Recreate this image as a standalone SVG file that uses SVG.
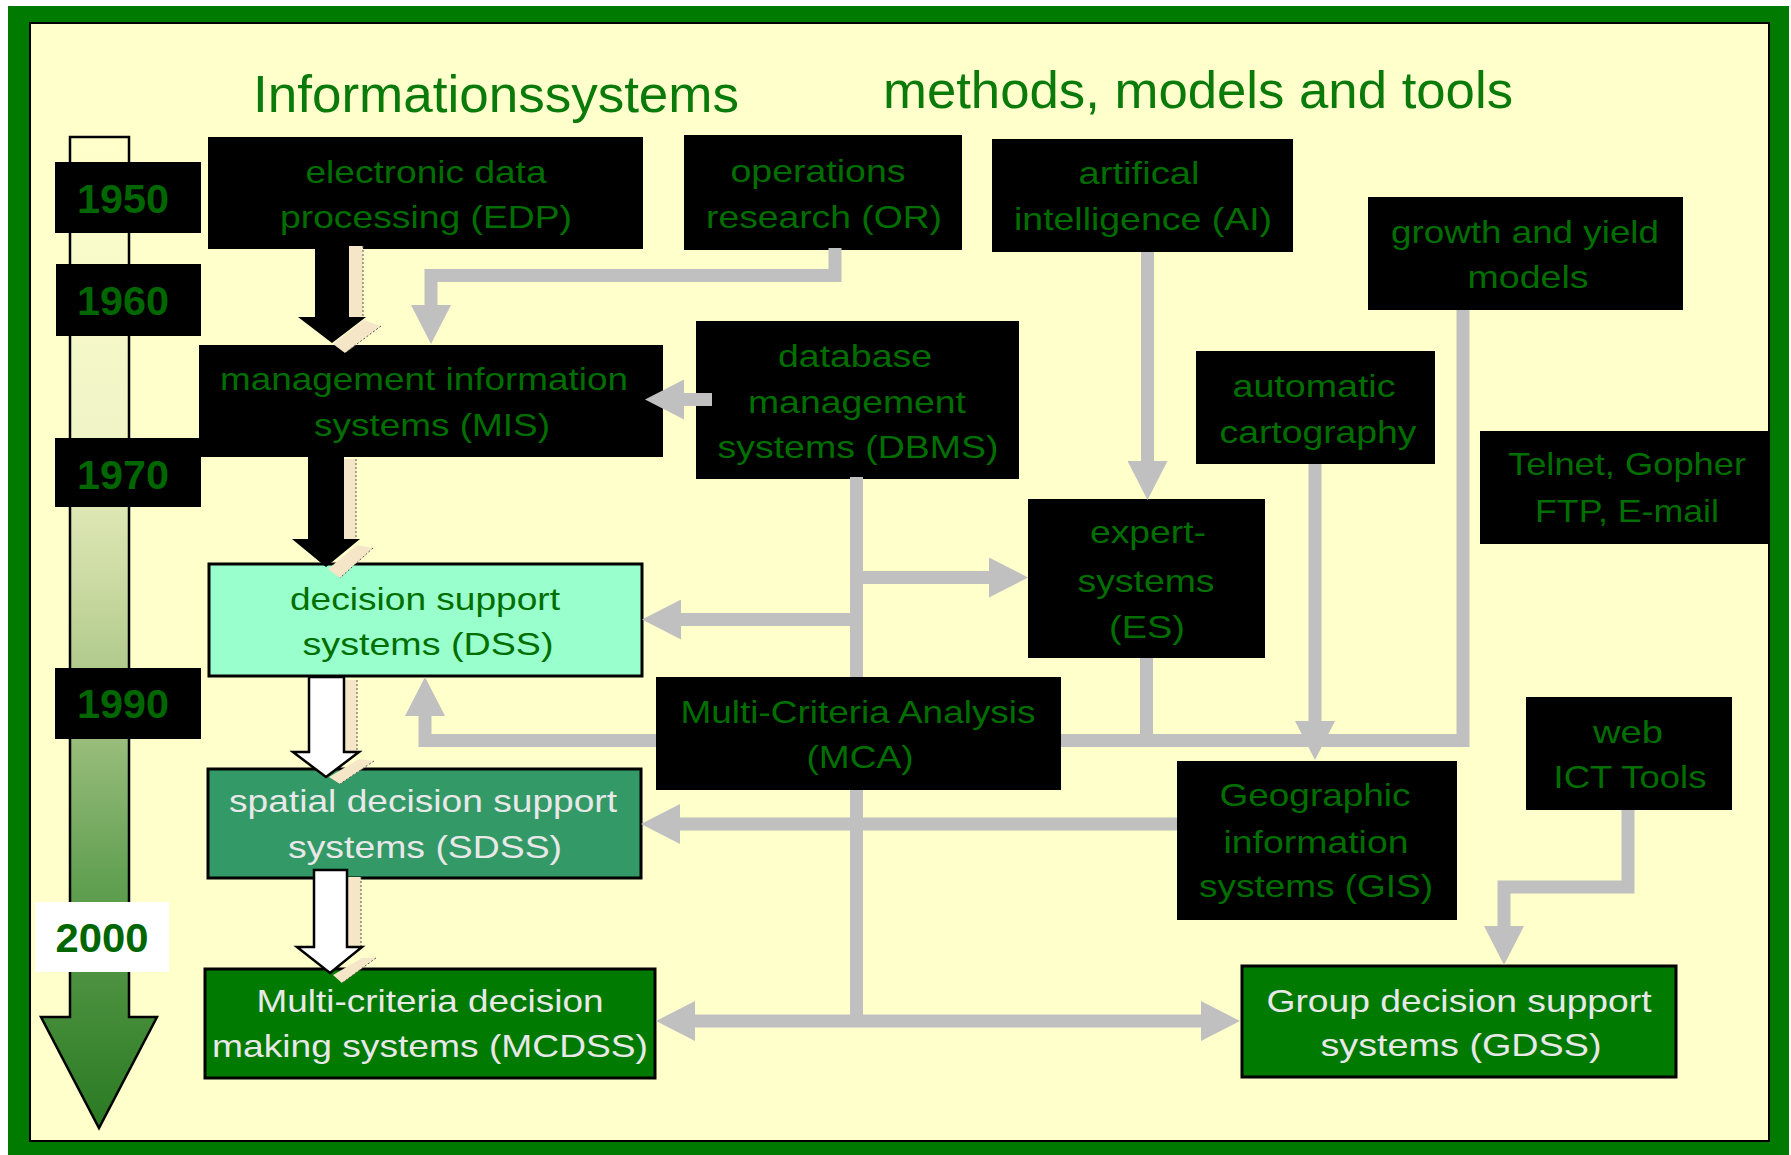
<svg xmlns="http://www.w3.org/2000/svg" width="1791" height="1155" viewBox="0 0 1791 1155">
<defs>
<linearGradient id="tl" gradientUnits="userSpaceOnUse" x1="0" y1="137" x2="0" y2="1128">
<stop offset="0" stop-color="#FFFFCC"/>
<stop offset="0.3" stop-color="#F0F4C6"/>
<stop offset="0.45" stop-color="#CBDAA2"/>
<stop offset="0.6" stop-color="#9CBE7E"/>
<stop offset="0.75" stop-color="#62A052"/>
<stop offset="1" stop-color="#2A7A22"/>
</linearGradient>
<marker id="ah" markerUnits="userSpaceOnUse" markerWidth="40" markerHeight="40" refX="0" refY="20" orient="auto-start-reverse" viewBox="0 0 40 40">
<path d="M0,0 L39,20 L0,40 Z" fill="#C0C0C0"/>
</marker>
</defs>
<style>
.box{fill:#000}
.t{font-family:"Liberation Sans",Arial,sans-serif;font-size:32px;fill:#006f00;text-anchor:middle}
.tw{fill:#E8E8E8}
.ttl{font-family:"Liberation Sans",Arial,sans-serif;font-size:52px;fill:#0a7a0a;text-anchor:middle}
.yr{font-family:"Liberation Sans",Arial,sans-serif;font-size:40px;font-weight:bold;fill:#006600;text-anchor:middle}
.gl{fill:none;stroke:#C0C0C0;stroke-width:13;stroke-linejoin:miter}
.ga{fill:none;stroke:#C0C0C0;stroke-width:13;stroke-linejoin:miter;marker-end:url(#ah)}
.bg{fill:#F5E6C8}
.dash{fill:none;stroke:#555;stroke-width:1;stroke-dasharray:2 2}
.blk{fill:#000}
.wht{fill:#fff;stroke:#000;stroke-width:2.5;stroke-linejoin:miter}
</style>

<rect x="0" y="0" width="1791" height="1155" fill="#fff"/>
<rect x="8" y="6" width="1781" height="1152" fill="#007a00"/>
<rect x="30" y="23" width="1739" height="1118" fill="#FFFFCC" stroke="#000" stroke-width="2"/>

<text class="ttl" x="496" y="112" textLength="486" lengthAdjust="spacingAndGlyphs">Informationssystems</text>
<text class="ttl" x="1198" y="108" textLength="630" lengthAdjust="spacingAndGlyphs">methods, models and tools</text>

<g id="timeline">
<polygon points="70,137 129,137 129,1017 157,1017 99,1128 41,1017 70,1017" fill="url(#tl)" stroke="#000" stroke-width="2.5"/>
</g>
<g id="y1950"><rect x="55" y="162" width="146" height="71" fill="#000"/><text class="yr" x="123" y="213" textLength="92" lengthAdjust="spacingAndGlyphs">1950</text></g>
<g id="y1960"><rect x="56" y="264" width="145" height="72" fill="#000"/><text class="yr" x="123" y="315" textLength="92" lengthAdjust="spacingAndGlyphs">1960</text></g>
<g id="y1970"><rect x="55" y="438" width="146" height="69" fill="#000"/><text class="yr" x="123" y="489" textLength="92" lengthAdjust="spacingAndGlyphs">1970</text></g>
<g id="y1990"><rect x="55" y="668" width="146" height="71" fill="#000"/><text class="yr" x="123" y="718" textLength="92" lengthAdjust="spacingAndGlyphs">1990</text></g>
<g id="y2000"><rect x="35" y="902" width="134" height="70" fill="#fff"/><text class="yr" x="102" y="952" textLength="93" lengthAdjust="spacingAndGlyphs">2000</text></g>

<g id="edp"><rect class="box" x="208" y="137" width="435" height="112"/>
<text class="t" x="426" y="183" textLength="241" lengthAdjust="spacingAndGlyphs">electronic data</text>
<text class="t" x="426" y="228" textLength="292" lengthAdjust="spacingAndGlyphs">processing (EDP)</text></g>

<g id="or"><rect class="box" x="684" y="135" width="278" height="115"/>
<text class="t" x="818" y="182" textLength="175" lengthAdjust="spacingAndGlyphs">operations</text>
<text class="t" x="824" y="228" textLength="236" lengthAdjust="spacingAndGlyphs">research (OR)</text></g>

<g id="ai"><rect class="box" x="992" y="139" width="301" height="113"/>
<text class="t" x="1139" y="184" textLength="121" lengthAdjust="spacingAndGlyphs">artifical</text>
<text class="t" x="1143" y="230" textLength="258" lengthAdjust="spacingAndGlyphs">intelligence (AI)</text></g>

<g id="growth"><rect class="box" x="1368" y="197" width="315" height="113"/>
<text class="t" x="1525" y="243" textLength="268" lengthAdjust="spacingAndGlyphs">growth and yield</text>
<text class="t" x="1528" y="288" textLength="121" lengthAdjust="spacingAndGlyphs">models</text></g>

<g id="dbms"><rect class="box" x="696" y="321" width="323" height="158"/>
<text class="t" x="855" y="367" textLength="154" lengthAdjust="spacingAndGlyphs">database</text>
<text class="t" x="857" y="413" textLength="218" lengthAdjust="spacingAndGlyphs">management</text>
<text class="t" x="858" y="458" textLength="281" lengthAdjust="spacingAndGlyphs">systems (DBMS)</text></g>

<g id="autocart"><rect class="box" x="1196" y="351" width="239" height="113"/>
<text class="t" x="1314" y="397" textLength="163" lengthAdjust="spacingAndGlyphs">automatic</text>
<text class="t" x="1318" y="443" textLength="197" lengthAdjust="spacingAndGlyphs">cartography</text></g>

<g id="telnet"><rect class="box" x="1480" y="431" width="290" height="113"/>
<text class="t" x="1627" y="475" textLength="238" lengthAdjust="spacingAndGlyphs">Telnet, Gopher</text>
<text class="t" x="1627" y="522" textLength="184" lengthAdjust="spacingAndGlyphs">FTP, E-mail</text></g>

<g id="mis"><rect class="box" x="199" y="345" width="464" height="112"/>
<text class="t" x="424" y="390" textLength="408" lengthAdjust="spacingAndGlyphs">management information</text>
<text class="t" x="432" y="436" textLength="236" lengthAdjust="spacingAndGlyphs">systems (MIS)</text></g>

<g id="es"><rect class="box" x="1028" y="499" width="237" height="159"/>
<text class="t" x="1148" y="543" textLength="116" lengthAdjust="spacingAndGlyphs">expert-</text>
<text class="t" x="1146" y="592" textLength="137" lengthAdjust="spacingAndGlyphs">systems</text>
<text class="t" x="1147" y="638" textLength="76" lengthAdjust="spacingAndGlyphs">(ES)</text></g>

<g id="dss"><rect x="209" y="564" width="433" height="112" fill="#99FFCC" stroke="#000" stroke-width="3"/>
<text class="t" x="425" y="610" textLength="270" lengthAdjust="spacingAndGlyphs" fill="#006600">decision support</text>
<text class="t" x="428" y="655" textLength="251" lengthAdjust="spacingAndGlyphs">systems (DSS)</text></g>

<g id="sdss"><rect x="208" y="769" width="433" height="109" fill="#339966" stroke="#000" stroke-width="3"/>
<text class="t tw" x="423" y="812" textLength="388" lengthAdjust="spacingAndGlyphs">spatial decision support</text>
<text class="t tw" x="425" y="858" textLength="274" lengthAdjust="spacingAndGlyphs">systems (SDSS)</text></g>

<g id="mcdss"><rect x="205" y="969" width="450" height="109" fill="#007a00" stroke="#000" stroke-width="3"/>
<text class="t tw" x="430" y="1012" textLength="347" lengthAdjust="spacingAndGlyphs">Multi-criteria decision</text>
<text class="t tw" x="430" y="1057" textLength="436" lengthAdjust="spacingAndGlyphs">making systems (MCDSS)</text></g>

<g id="gis"><rect class="box" x="1177" y="761" width="280" height="159"/>
<text class="t" x="1315" y="806" textLength="191" lengthAdjust="spacingAndGlyphs">Geographic</text>
<text class="t" x="1316" y="853" textLength="185" lengthAdjust="spacingAndGlyphs">information</text>
<text class="t" x="1316" y="897" textLength="234" lengthAdjust="spacingAndGlyphs">systems (GIS)</text></g>

<g id="web"><rect class="box" x="1526" y="697" width="206" height="113"/>
<text class="t" x="1628" y="743" textLength="70" lengthAdjust="spacingAndGlyphs">web</text>
<text class="t" x="1630" y="788" textLength="153" lengthAdjust="spacingAndGlyphs">ICT Tools</text></g>

<g id="gdss"><rect x="1242" y="966" width="434" height="111" fill="#007a00" stroke="#000" stroke-width="3"/>
<text class="t tw" x="1459" y="1012" textLength="385" lengthAdjust="spacingAndGlyphs">Group decision support</text>
<text class="t tw" x="1461" y="1056" textLength="281" lengthAdjust="spacingAndGlyphs">systems (GDSS)</text></g>

<g id="connectors">
<path class="ga" d="M835 248 V275.5 H431 V305"/>
<path class="ga" d="M712 399.5 H684"/>
<path class="ga" d="M1147.5 252 V461"/>
<path class="gl" d="M856.5 477 V1021"/>
<path class="ga" d="M856.5 577.5 H989"/>
<path class="ga" d="M856.5 619.5 H681"/>
<path class="ga" d="M1463 310 V740.5 H425 V716"/>
<path class="gl" d="M1146.5 658 V740"/>
<path class="ga" d="M1315 464 V721"/>
<path class="ga" d="M1177 824 H680"/>
<path class="ga" d="M695 1021 H1201" marker-start="url(#ah)"/>
<path class="ga" d="M1628 810 V887 H1504 V926"/>

<polygon class="bg" points="349,246 363,246 363,317 349,317"/>
<line class="dash" x1="363" y1="246" x2="363" y2="317"/>
<polygon class="blk" points="315,249 349,249 349,317 366,317 332,343 298,317 315,317"/>
<polygon class="bg" points="364,320 381,326 345,353 333,344"/>
<line class="dash" x1="381" y1="326" x2="345" y2="353"/>

<polygon class="bg" points="344,459 356,459 356,539 344,539"/>
<line class="dash" x1="356" y1="459" x2="356" y2="539"/>
<polygon class="blk" points="308,457 344,457 344,539 360,539 326,567 292,539 308,539"/>
<polygon class="bg" points="357,545 373,548 340,578 328,569"/>
<line class="dash" x1="373" y1="548" x2="340" y2="578"/>

<polygon class="bg" points="344,680 357,680 357,752 344,752"/>
<line class="dash" x1="357" y1="680" x2="357" y2="752"/>
<polygon class="bg" points="359,759 374,761 340,784 329,777"/>
<line class="dash" x1="374" y1="761" x2="340" y2="784"/>
<polygon class="wht" points="309,677 344,677 344,752 359,752 326,777 293,752 309,752"/>

<polygon class="bg" points="347,877 361,877 361,947 347,947"/>
<line class="dash" x1="361" y1="877" x2="361" y2="947"/>
<polygon class="bg" points="362,958 376,958 342,983 333,975"/>
<line class="dash" x1="376" y1="958" x2="342" y2="983"/>
<polygon class="wht" points="314,870 347,870 347,947 362,947 330,973 297,947 314,947"/>
</g>

<g id="mca"><rect class="box" x="656" y="677" width="405" height="113"/>
<text class="t" x="858" y="723" textLength="355" lengthAdjust="spacingAndGlyphs">Multi-Criteria Analysis</text>
<text class="t" x="860" y="768" textLength="107" lengthAdjust="spacingAndGlyphs">(MCA)</text></g>
</svg>
